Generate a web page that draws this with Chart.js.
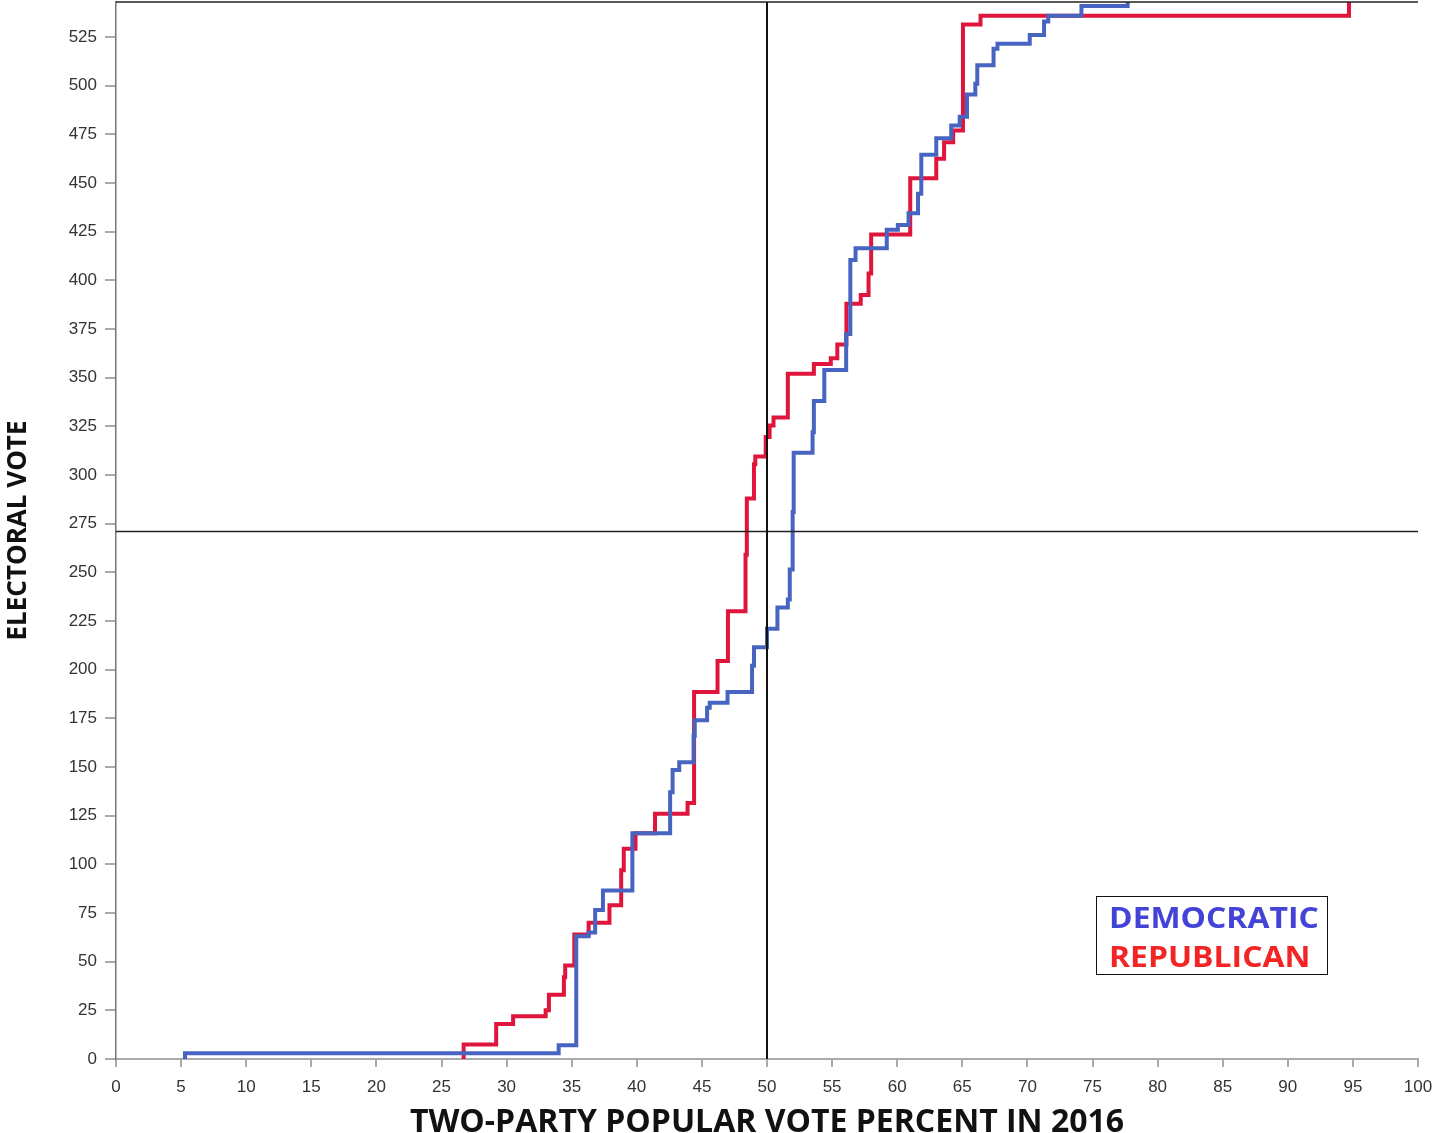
<!DOCTYPE html>
<html>
<head>
<meta charset="utf-8">
<script src="https://cdn.jsdelivr.net/npm/chart.js@4.4.1/dist/chart.umd.min.js"></script>
<style>
  html, body { margin: 0; padding: 0; background: #fff; }
  #marco { position: relative; width: 1435px; height: 1133px; }
  #leyenda {
    position: absolute; left: 1096px; top: 896px; width: 232px; height: 79px;
    border: 1.5px solid #111; background: #fff; box-sizing: border-box;
    font: bold 28px 'Open Sans', sans-serif; line-height: 39px; padding: 1px 0 0 12px;
  }
  #leyenda div { transform: scaleX(1.14); transform-origin: left center; white-space: nowrap; }
  #leyenda .dem { color: #4343d6; }
  #leyenda .rep { color: #f22424; }
</style>
</head>
<body>
<div id="marco">
  <canvas id="grafica" width="1435" height="1133"></canvas>
  <div id="leyenda"><div class="dem">DEMOCRATIC</div><div class="rep">REPUBLICAN</div></div>
</div>
<script>
// Voto popular bipartidista (%) vs voto electoral acumulado, 2016

var ticksX = [0, 5, 10, 15, 20, 25, 30, 35, 40, 45, 50, 55, 60, 65, 70, 75, 80, 85, 90, 95, 100];
var ticksY = [0, 25, 50, 75, 100, 125, 150, 175, 200, 225, 250, 275, 300, 325, 350, 375, 400, 425, 450, 475, 500, 525];

// Demócratas: porcentaje donde sube el escalón y voto electoral acumulado
var demPct = [5.3, 5.3, 34.0, 35.35, 36.3, 36.8, 37.4, 39.66, 42.56, 42.75, 43.26, 44.36, 44.45, 45.4, 45.6,
  46.97, 48.85, 49.0, 50.0, 50.8, 51.6, 51.75, 51.97, 52.05, 53.5, 53.6, 54.4, 56.08, 56.4, 56.8, 59.2,
  60.05, 60.87, 61.6, 61.85, 63.0, 64.15, 64.8, 65.36, 66.0, 66.15, 67.4, 67.7, 70.18, 71.28, 71.6, 74.15, 77.7];
var demEv = [0, 3, 7, 63, 65, 76.5, 86.5, 116, 137, 148.5, 152.5, 166, 174, 180.5, 183,
  188.5, 202, 211.5, 221, 232, 236, 251.5, 281, 311.5, 322, 338, 354, 372.5, 410.5, 416.5, 426,
  428.5, 434.5, 444.5, 464.5, 473, 479.5, 484, 495.5, 501, 510.5, 519, 521.5, 526, 533, 536, 541, 543];

// Republicanos
var repPct = [26.7, 26.7, 29.2, 30.5, 33.0, 33.25, 34.4, 34.5, 35.2, 36.3, 37.9, 38.8, 39.0, 39.9, 41.4,
  43.9, 44.4, 46.2, 47.0, 48.35, 48.45, 49.0, 49.1, 49.9, 50.2, 50.5, 51.6, 53.6, 54.9, 55.4, 56.1,
  57.2, 57.8, 58.0, 61.0, 63.0, 63.6, 64.3, 65.05, 66.4, 94.7];
var repEv = [0, 7.5, 18, 22, 25, 33, 42, 48, 64, 70, 79, 97, 108, 116, 126,
  131.5, 188.5, 204.5, 230, 259, 288, 305.5, 309.5, 319.5, 325.5, 329.5, 352, 357, 360, 367, 388,
  392.5, 403.5, 423.5, 452.5, 462.5, 471, 477, 531.5, 536, 543];

// líneas de referencia: 50 % y mayoría de votos electorales
var mitadX = [50, 50];
var mitadY = [0, 543];
var mayoriaX = [0, 100];
var mayoriaY = [271, 271];

function puntos(xs, ys) {
  return xs.map(function (x, i) { return { x: x, y: ys[i] }; });
}

var bordeSuperior = {
  id: 'bordeSuperior',
  afterDraw: function (chart) {
    var a = chart.chartArea, ctx = chart.ctx;
    ctx.save();
    ctx.strokeStyle = '#222';
    ctx.lineWidth = 1.5;
    ctx.beginPath();
    ctx.moveTo(a.left, a.top);
    ctx.lineTo(a.right, a.top);
    ctx.stroke();
    ctx.restore();
  }
};

var fuenteTicks = { family: "'Liberation Sans', Arial, sans-serif", size: 17 };

new Chart(document.getElementById('grafica').getContext('2d'), {
  type: 'line',
  data: {
    datasets: [
      { data: puntos(mitadX, mitadY), borderColor: '#111', borderWidth: 2, pointRadius: 0 },
      { data: puntos(mayoriaX, mayoriaY), borderColor: '#222', borderWidth: 1.5, pointRadius: 0 },
      { label: 'DEMOCRATIC', data: puntos(demPct, demEv), stepped: true, borderColor: '#4765c0', borderWidth: 4, pointRadius: 0, borderJoinStyle: 'miter' },
      { label: 'REPUBLICAN', data: puntos(repPct, repEv), stepped: true, borderColor: '#e0153c', borderWidth: 4, pointRadius: 0, borderJoinStyle: 'miter' },
    ],
  },
  options: {
    responsive: false,
    animation: false,
    layout: { padding: { top: 2, right: 17, left: 0, bottom: 0 } },
    plugins: { legend: { display: false }, tooltip: { enabled: false } },
    scales: {
      x: {
        type: 'linear', min: 0, max: 100,
        afterBuildTicks: function (s) { s.ticks = ticksX.map(function (v) { return { value: v }; }); },
        afterFit: function (s) { s.height = 74; s.paddingLeft = 0; s.paddingRight = 0; },
        grid: { drawOnChartArea: false, drawTicks: true, tickLength: 8, color: '#aaa', lineWidth: 2 },
        border: { color: '#aaa', width: 2 },
        ticks: { color: '#333', font: fuenteTicks, padding: 10, maxRotation: 0, autoSkip: false },
        title: {
          display: true, text: 'TWO-PARTY POPULAR VOTE PERCENT IN 2016', color: '#111',
          font: { family: "'Open Sans', sans-serif", size: 32, weight: 'bold', lineHeight: 1 },
          padding: { top: 0, bottom: -6 },
        },
      },
      y: {
        min: 0, max: 543,
        afterBuildTicks: function (s) { s.ticks = ticksY.map(function (v) { return { value: v }; }); },
        afterFit: function (s) { s.width = 116; s.paddingTop = 0; s.paddingBottom = 0; },
        grid: { drawOnChartArea: false, drawTicks: true, tickLength: 11, color: '#aaa', lineWidth: 2 },
        border: { color: '#777', width: 1.5 },
        ticks: { color: '#333', font: fuenteTicks, padding: 8 },
        title: {
          display: true, text: 'ELECTORAL VOTE', color: '#111',
          font: { family: "'Open Sans', sans-serif", size: 26, weight: 'bold', lineHeight: 1 },
          padding: { top: 6, bottom: 0 },
        },
      },
    },
  },
  plugins: [bordeSuperior],
});
</script>
</body>
</html>
